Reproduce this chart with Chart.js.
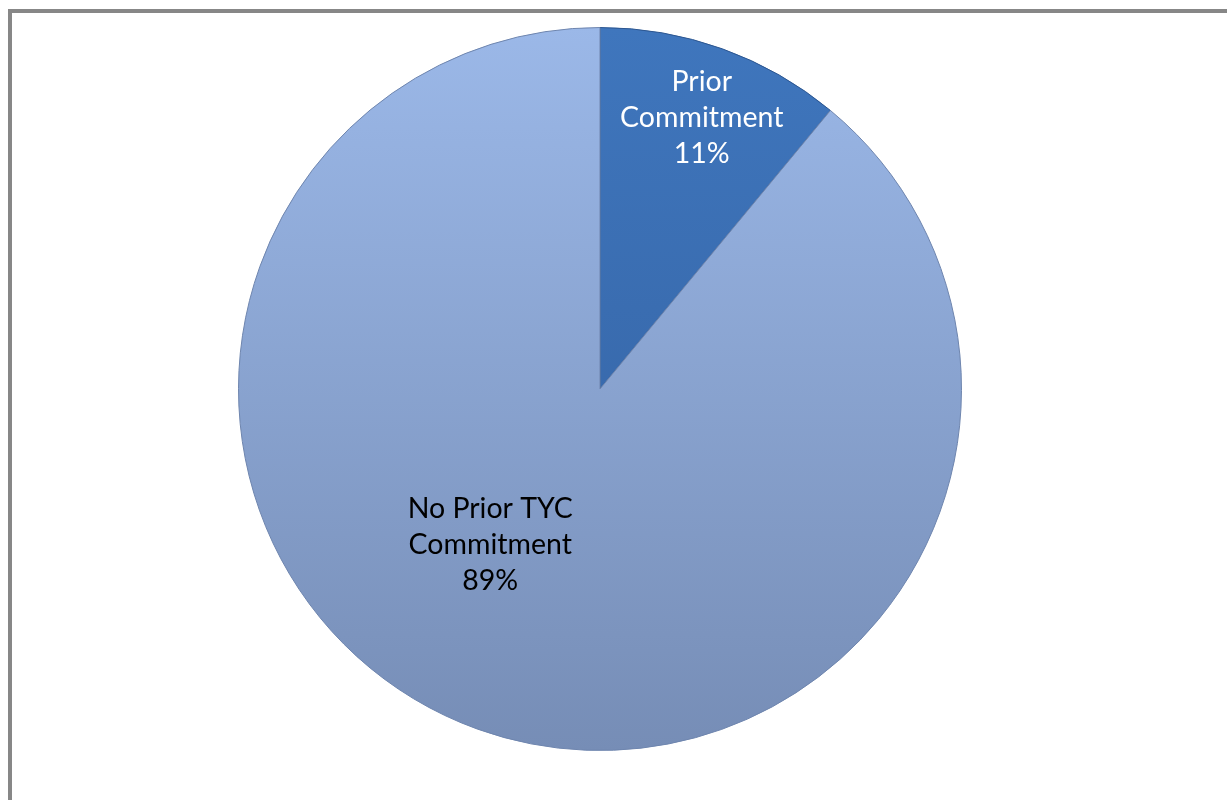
<!DOCTYPE html>
<html>
<head>
<meta charset="utf-8">
<script src="https://cdn.jsdelivr.net/npm/chart.js@4/dist/chart.umd.min.js"></script>
<style>
  html, body { margin: 0; padding: 0; background: #fff; overflow: hidden; }
  #wrap { position: relative; width: 1227px; height: 800px; }
  #frame { position: absolute; left: 8px; top: 9px; width: 1240px; height: 820px;
           border: 4px solid #878787; box-sizing: border-box; }
  canvas { position: absolute; left: 0; top: 0; }
</style>
</head>
<body>
<div id="wrap">
  <div id="frame"></div>
  <canvas id="c" width="1227" height="800"></canvas>
</div>
<script>
const categories = ['Prior Commitment', 'No Prior TYC Commitment'];
const labelLines = [['Prior', 'Commitment'], ['No Prior TYC', 'Commitment']];
const values = [11, 89];

const gradStops = [
  ['#3f76bd', '#325f9e'],
  ['#9bb8e8', '#768db6']
];

function sliceFill(ctx) {
  const chart = ctx.chart;
  const area = chart.chartArea;
  if (!area) return gradStops[ctx.dataIndex][0];
  const g = chart.ctx.createLinearGradient(0, area.top, 0, area.bottom);
  const s = gradStops[ctx.dataIndex];
  g.addColorStop(0, s[0]);
  g.addColorStop(1, s[1]);
  return g;
}

const labelPlugin = {
  id: 'sliceLabels',
  afterDatasetsDraw(chart, args, opts) {
    const meta = chart.getDatasetMeta(0);
    const c = chart.ctx;
    const total = values.reduce((a, b) => a + b, 0);
    meta.data.forEach((arc, i) => {
      const p = arc.getProps(['x', 'y', 'startAngle', 'endAngle', 'outerRadius'], true);
      const place = opts.place[i];
      const a = p.startAngle + place.angleFrac * (p.endAngle - p.startAngle);
      const r = p.outerRadius * place.radiusFrac;
      const x = p.x + Math.cos(a) * r;
      const y = p.y + Math.sin(a) * r;
      const lines = labelLines[i].concat([Math.round(values[i] / total * 100) + '%']);
      c.save();
      c.font = opts.font;
      c.fillStyle = opts.colors[i];
      c.textAlign = 'center';
      c.textBaseline = 'middle';
      const lh = opts.lineHeight;
      const y0 = y - lh * (lines.length - 1) / 2;
      lines.forEach((t, k) => c.fillText(t, x, y0 + k * lh));
      c.restore();
    });
  }
};

new Chart(document.getElementById('c'), {
  type: 'pie',
  data: {
    labels: categories,
    datasets: [{
      data: values,
      backgroundColor: sliceFill,
      borderColor: ['#2c5690', '#6e85ae'],
      borderWidth: 1
    }]
  },
  options: {
    responsive: false,
    animation: false,
    layout: { padding: { left: 237, right: 264, top: 27, bottom: 49 } },
    plugins: {
      legend: { display: false },
      tooltip: { enabled: false },
      sliceLabels: {
        font: '28.5px Lato, "Open Sans", sans-serif',
        lineHeight: 36,
        colors: ['#ffffff', '#000000'],
        place: [
          { angleFrac: 0.52, radiusFrac: 0.8 },
          { angleFrac: 0.548, radiusFrac: 0.527 }
        ]
      }
    }
  },
  plugins: [labelPlugin]
});
</script>
</body>
</html>
